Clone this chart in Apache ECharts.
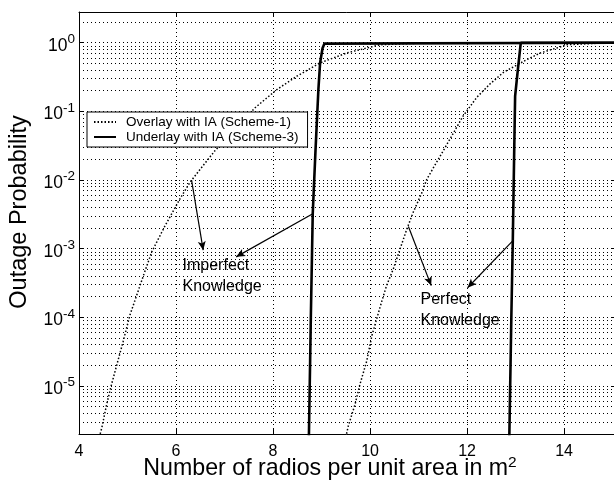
<!DOCTYPE html>
<html>
<head>
<meta charset="utf-8">
<script src="https://cdn.jsdelivr.net/npm/echarts@6/dist/echarts.min.js"></script>
<style>
  html, body { margin: 0; padding: 0; background: #fff; }
  #chart { width: 614px; height: 486px; }
</style>
</head>
<body>
<div id="chart"></div>
<script>
// Outage probability vs. number of radios per unit area (log-scaled probability).

const xTicks = [4, 6, 8, 10, 12, 14];
const legendNames = ['Overlay with IA (Scheme-1)', 'Underlay with IA (Scheme-3)'];

// Overlay with IA, imperfect knowledge
const overlayImperfectX = [4.40, 4.47, 4.57, 4.67, 4.78, 4.91, 5.05, 5.19, 5.33, 5.50, 5.77, 6.08, 6.29, 6.50, 6.80, 7.63, 8.08, 8.49, 8.97, 9.52, 10.21, 11.03, 12.0, 13.0, 15.1];
const overlayImperfectP = [1.6e-6, 2.46e-6, 5.4e-6, 1.05e-5, 2.04e-5, 4.45e-5, 1.08e-4, 2.1e-4, 4.1e-4, 9.0e-4, 2.13e-3, 5.3e-3, 9.3e-3, 1.44e-2, 2.66e-2, 0.113, 0.208, 0.325, 0.508, 0.71, 0.935, 0.984, 0.995, 0.999, 1.0];

// Overlay with IA, perfect knowledge
const overlayPerfectX = [9.50, 9.55, 9.69, 9.79, 9.93, 10.04, 10.14, 10.24, 10.34, 10.48, 10.62, 10.76, 10.89, 11.07, 11.17, 11.55, 11.92, 12.20, 12.47, 12.75, 13.23, 13.51, 13.85, 14.06, 14.74, 15.1];
const overlayPerfectP = [1.8e-6, 2.6e-6, 5.4e-6, 1.05e-5, 2.3e-5, 5.5e-5, 9.7e-5, 1.7e-4, 2.9e-4, 5.1e-4, 1.0e-3, 1.95e-3, 3.4e-3, 6.6e-3, 1.03e-2, 3.0e-2, 8.6e-2, 0.16, 0.25, 0.37, 0.567, 0.71, 0.838, 0.935, 0.984, 0.993];

// Underlay with IA, imperfect knowledge
const underlayImperfectX = [8.733, 8.779, 8.818, 8.876, 8.935, 8.97, 9.02, 9.06, 9.10, 15.1];
const underlayImperfectP = [1e-6, 1e-4, 3.2e-3, 2.8e-2, 0.21, 0.51, 0.83, 0.97, 1.0, 1.0];

// Underlay with IA, perfect knowledge
const underlayPerfectX = [12.864, 12.912, 12.942, 12.973, 12.99, 13.05, 13.107, 15.1];
const underlayPerfectP = [1e-6, 1e-4, 1.3e-3, 3.2e-2, 0.167, 0.43, 1.0, 1.0];

const FONT = '"Liberation Sans", Arial, Helvetica, sans-serif';
const BLACK = '#000';
const gridLine = { color: '#000', width: 1, type: [1, 3] };

const X_MIN = 4, X_MAX = 15.09;
const Y_MIN = 2e-6, Y_MAX = 2.8;

function pairs(xs, ps) { return xs.map((x, i) => [x, ps[i]]); }

// minor log grid lines at 2..9 x 10^k, spanning the full x range
const minorLevels = [];
for (let e = -6; e <= 0; e++) {
  for (let k = 2; k <= 9; k++) {
    const v = k * Math.pow(10, e);
    if (v > Y_MIN * 1.0001 && v < Y_MAX) minorLevels.push(v);
  }
}

function arrow(from, to) {
  return {
    silent: true,
    symbol: ['none', 'arrow'],
    symbolSize: [6, 9],
    label: { show: false },
    lineStyle: { color: BLACK, width: 1.2, type: 'solid' },
    emphasis: { disabled: true },
    animation: false,
    data: [[{ coord: from }, { coord: to }]]
  };
}

function note(at, text) {
  return {
    silent: true,
    symbol: 'circle',
    symbolSize: 1,
    itemStyle: { color: 'rgba(0,0,0,0)' },
    label: {
      show: true, position: 'right', distance: 0, formatter: text,
      color: BLACK, fontFamily: FONT, fontSize: 16, lineHeight: 21, align: 'left'
    },
    emphasis: { disabled: true },
    data: [{ coord: at, value: 0 }]
  };
}

function labelPow(v) {
  const l = Math.log10(v);
  const e = Math.round(l);
  if (Math.abs(l - e) > 1e-6) return '';
  return '{b|10}{s|' + e + '}';
}

const chart = echarts.init(document.getElementById('chart'), null, { renderer: 'canvas' });

const dottedStyle = { color: BLACK, width: 1.5, type: [1.5, 2] };
const solidStyle = { color: BLACK, width: 2.6, type: 'solid' };

const option = {
  animation: false,
  backgroundColor: '#fff',
  textStyle: { fontFamily: FONT, color: BLACK },
  grid: { left: 79, top: 12, right: -3, bottom: 52, containLabel: false, outerBoundsMode: 'none' },
  legend: {
    data: legendNames,
    orient: 'vertical',
    left: 87,
    top: 112,
    padding: [3, 9, 3, 6],
    itemWidth: 22,
    itemHeight: 14,
    itemGap: 1,
    selectedMode: false,
    backgroundColor: '#fff',
    borderColor: BLACK,
    borderWidth: 1,
    borderRadius: 0,
    itemStyle: { opacity: 0 },
    textStyle: { fontFamily: FONT, fontSize: 13.5, color: BLACK, padding: [0, 0, 0, 5] }
  },
  xAxis: [
    {
      type: 'value', min: X_MIN, max: X_MAX, interval: 2, position: 'bottom',
      name: 'Number of radios per unit area in m{sup|2}',
      nameLocation: 'middle', nameGap: 21, nameMoveOverlap: false,
      nameTextStyle: {
        fontFamily: FONT, fontSize: 23.2, color: BLACK, padding: [0, 36, 0, 0],
        rich: { sup: { fontFamily: FONT, fontSize: 15.5, color: BLACK, padding: [0, 0, 12, 0] } }
      },
      axisLine: { show: true, onZero: false, lineStyle: { color: BLACK, width: 1 } },
      axisTick: { show: true, inside: true, length: 5, lineStyle: { color: BLACK, width: 1 } },
      axisLabel: {
        show: true, color: BLACK, fontFamily: FONT, fontSize: 16, margin: 10,
        showMaxLabel: false,
        formatter: v => (xTicks.indexOf(v) >= 0 ? String(v) : '')
      },
      splitLine: { show: true, lineStyle: gridLine }
    },
    {
      type: 'value', min: X_MIN, max: X_MAX, interval: 2, position: 'top',
      axisLine: { show: true, onZero: false, lineStyle: { color: BLACK, width: 1 } },
      axisTick: { show: true, inside: true, length: 5, lineStyle: { color: BLACK, width: 1 } },
      axisLabel: { show: false },
      splitLine: { show: false }
    }
  ],
  yAxis: [
    {
      type: 'log', logBase: 10, min: Y_MIN, max: Y_MAX, position: 'left',
      name: 'Outage Probability',
      nameLocation: 'middle', nameGap: 47, nameRotate: 90,
      nameTextStyle: { fontFamily: FONT, fontSize: 23.5, color: BLACK, padding: [0, 0, 0, 22] },
      axisLine: { show: true, onZero: false, lineStyle: { color: BLACK, width: 1 } },
      axisTick: { show: true, inside: true, length: 5, lineStyle: { color: BLACK, width: 1 } },
      axisLabel: {
        show: true, margin: 4, showMinLabel: false, showMaxLabel: false,
        formatter: labelPow,
        rich: {
          b: { fontFamily: FONT, fontSize: 17.5, color: BLACK, padding: [6, 0, 0, 0] },
          s: { fontFamily: FONT, fontSize: 13.5, color: BLACK, padding: [0, 0, 7, 0] }
        }
      },
      splitLine: { show: true, lineStyle: gridLine }
    },
    {
      type: 'log', logBase: 10, min: Y_MIN, max: Y_MAX, position: 'right',
      axisLine: { show: true, onZero: false, lineStyle: { color: BLACK, width: 1 } },
      axisTick: { show: true, inside: true, length: 5, lineStyle: { color: BLACK, width: 1 } },
      axisLabel: { show: false },
      splitLine: { show: false }
    }
  ],
  series: [
    {
      // minor log grid
      name: 'minor-grid', type: 'line', data: [], silent: true,
      markLine: {
        silent: true, symbol: ['none', 'none'], z: 1,
        label: { show: false },
        lineStyle: gridLine,
        emphasis: { disabled: true },
        animation: false,
        data: minorLevels.map(v => [{ coord: [X_MIN, v] }, { coord: [X_MAX, v] }])
      }
    },
    {
      name: legendNames[0], type: 'line', symbol: 'none', z: 3,
      data: pairs(overlayImperfectX, overlayImperfectP),
      lineStyle: dottedStyle,
      itemStyle: { color: BLACK },
      markLine: arrow([6.32, 1.0e-2], [6.56, 9.5e-4]),
      markPoint: note([6.124, 4.0e-4], 'Imperfect\nKnowledge')
    },
    {
      name: legendNames[0], type: 'line', symbol: 'none', z: 3,
      data: pairs(overlayPerfectX, overlayPerfectP),
      lineStyle: dottedStyle,
      itemStyle: { color: BLACK },
      markLine: arrow([10.79, 2.1e-3], [11.26, 2.9e-4]),
      markPoint: note([11.03, 1.28e-4], 'Perfect\nKnowledge')
    },
    {
      name: legendNames[1], type: 'line', symbol: 'none', z: 3,
      data: pairs(underlayImperfectX, underlayImperfectP),
      lineStyle: solidStyle,
      itemStyle: { color: BLACK },
      markLine: arrow([8.81, 3.2e-3], [7.24, 7.6e-4])
    },
    {
      name: legendNames[1], type: 'line', symbol: 'none', z: 3,
      data: pairs(underlayPerfectX, underlayPerfectP),
      lineStyle: solidStyle,
      itemStyle: { color: BLACK },
      markLine: arrow([12.94, 1.3e-3], [12.01, 2.7e-4])
    }
  ]
};

chart.setOption(option);
</script>
</body>
</html>
